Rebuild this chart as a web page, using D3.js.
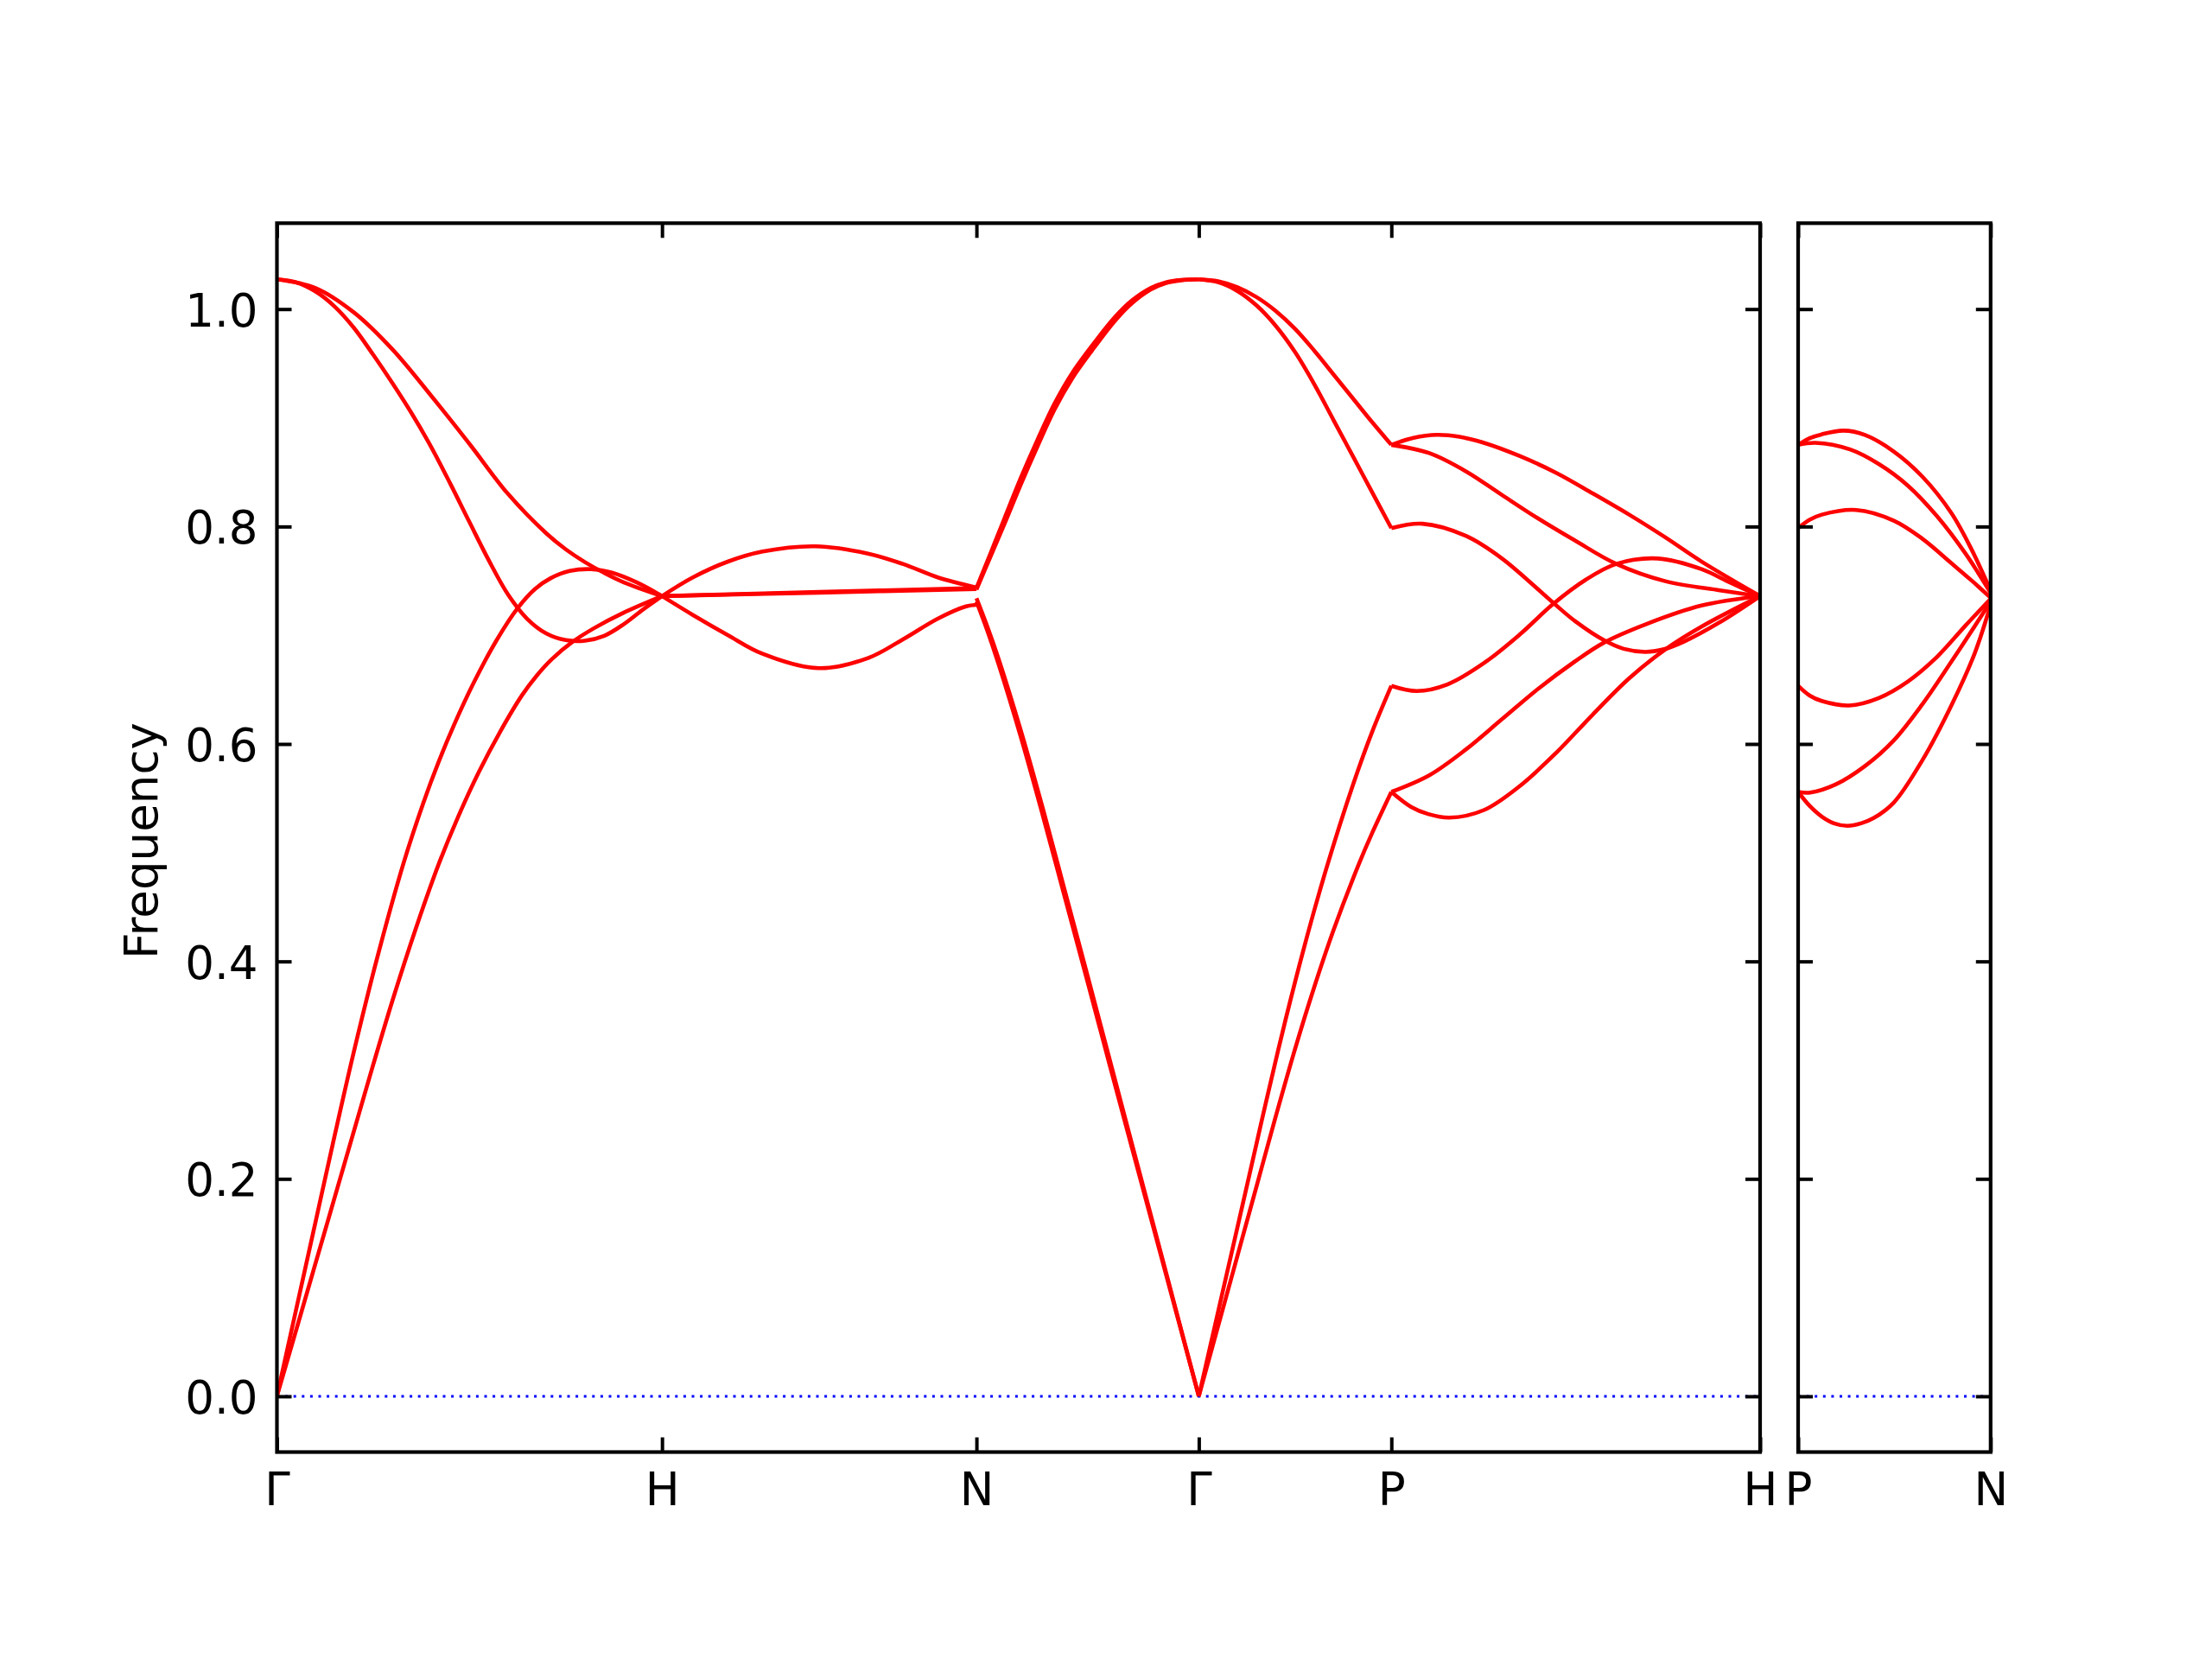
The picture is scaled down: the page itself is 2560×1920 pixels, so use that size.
<!DOCTYPE html>
<html><head><meta charset="utf-8">
<script src="https://cdn.jsdelivr.net/npm/d3@7"></script>
<style>body{margin:0;background:#fff}</style>
</head><body>
<svg id="chart" width="2560" height="1920" xmlns="http://www.w3.org/2000/svg"></svg>
<script>
// ---------------- data ----------------
const mainLabels = ["Γ","H","N","Γ","P","H"];
const mainPos = [0, 0.8660, 1.5731, 2.0731, 2.5061, 3.3353];
const sideLabels = ["P","N"];
const sidePos = [0, 0.4330];
const yTickVals = [0, 0.2, 0.4, 0.6, 0.8, 1.0];
const yTickLabels = ["0.0","0.2","0.4","0.6","0.8","1.0"];
const yLabel = "Frequency";

// each band: [fraction along segment, frequency]
const bandsGH = [
  [[0,1.0274],[0.1,1.0194],[0.2,0.9969],[0.3,0.9629],[0.4,0.9205],[0.5,0.8760],[0.6,0.8300],[0.7,0.7935],[0.75,0.7790],[0.8,0.7672],[0.85,0.7573],[0.9,0.7488],[1,0.736]],
  [[0,1.0274],[0.05,1.0246],[0.1,1.0162],[0.15,1.0023],[0.2,0.9827],[0.25,0.9580],[0.3,0.9318],[0.35,0.9040],[0.4,0.8735],[0.45,0.8395],[0.5,0.8040],[0.55,0.7690],[0.6,0.7375],[0.65,0.7150],[0.7,0.7015],[0.75,0.6955],[0.8,0.6950],[0.85,0.6995],[0.9,0.7100],[0.95,0.7235],[1,0.736]],
  [[0,0],[0.05,0.08],[0.1,0.16],[0.15,0.24],[0.2,0.3173],[0.26,0.4028],[0.329,0.4906],[0.38,0.5456],[0.42,0.5836],[0.46,0.6176],[0.51,0.6556],[0.57,0.6952],[0.625,0.7249],[0.67,0.7425],[0.71,0.7523],[0.76,0.7591],[0.816,0.7608],[0.87,0.7576],[0.935,0.7485],[1,0.736]],
  [[0,0],[0.1,0.122],[0.2,0.244],[0.25,0.305],[0.3,0.364],[0.36,0.4296],[0.42,0.4894],[0.47,0.5326],[0.524,0.574],[0.58,0.6115],[0.636,0.6446],[0.675,0.6630],[0.711,0.6770],[0.768,0.6940],[0.824,0.7066],[0.899,0.7205],[1,0.736]]
];
const bandsHN = [
  [[0,0.736],[0.098,0.7532],[0.209,0.7677],[0.320,0.777],[0.488,0.7818],[0.655,0.7751],[0.766,0.7656],[0.877,0.7532],[1,0.7439]],
  [[0,0.736],[0.5,0.7392],[1,0.7425]],
  [[0,0.736],[0.5,0.7398],[1,0.7435]],
  [[0,0.736],[0.098,0.7187],[0.209,0.7002],[0.320,0.6829],[0.499,0.6697],[0.655,0.679],[0.766,0.6962],[0.877,0.7153],[0.967,0.7266],[1,0.728]]
];
const bandsNG = [
  [[0,0.7435],[0.0625,0.775],[0.125,0.807],[0.2,0.845],[0.275,0.88],[0.352,0.9134],[0.43,0.941],[0.52,0.9664],[0.624,0.9929],[0.7,1.008],[0.784,1.0194],[0.85,1.0245],[0.92,1.0268],[1,1.0274]],
  [[0,0.742],[0.0625,0.772],[0.125,0.802],[0.2,0.839],[0.275,0.874],[0.352,0.908],[0.43,0.936],[0.52,0.962],[0.624,0.9895],[0.7,1.0055],[0.784,1.018],[0.85,1.0238],[0.92,1.0265],[1,1.0274]],
  [[0,0.734],[0.05,0.7073],[0.1,0.678],[0.2,0.612],[0.3,0.5395],[0.4,0.463],[0.5,0.3865],[0.6,0.309],[0.7,0.2315],[0.8,0.1545],[0.9,0.0772],[1,0]],
  [[0,0.731],[0.05,0.7035],[0.1,0.673],[0.2,0.606],[0.3,0.533],[0.4,0.457],[0.5,0.381],[0.6,0.304],[0.7,0.228],[0.8,0.152],[0.9,0.076],[1,0]]
];
const bandsGP = [
  [[0,1.0274],[0.1,1.0256],[0.2,1.0201],[0.3,1.011],[0.4,0.9982],[0.5,0.9818],[0.6,0.9617],[0.7,0.9398],[0.8,0.9179],[0.9,0.896],[1,0.8751]],
  [[0,1.0274],[0.1,1.0247],[0.2,1.0167],[0.3,1.0033],[0.4,0.9845],[0.5,0.9604],[0.6,0.9308],[0.7,0.8978],[0.8,0.8647],[0.9,0.8316],[1,0.7985]],
  [[0,0],[0.1,0.0776],[0.2,0.155],[0.3,0.2327],[0.35,0.2714],[0.45,0.346],[0.55,0.415],[0.66,0.484],[0.8,0.562],[0.9,0.611],[1,0.6535]],
  [[0,0],[0.1,0.0644],[0.2,0.1288],[0.3,0.1932],[0.4,0.2577],[0.5,0.3196],[0.6,0.3767],[0.7,0.4289],[0.83,0.489],[0.9,0.518],[1,0.5559]]
];
const bandsPH = [
  [[0,0.8751],[0.06,0.8815],[0.123,0.8843],[0.185,0.8825],[0.251,0.877],[0.349,0.8647],[0.448,0.8492],[0.546,0.8305],[0.645,0.8109],[0.743,0.79],[0.841,0.7678],[1,0.736]],
  [[0,0.8751],[0.103,0.8675],[0.202,0.8508],[0.300,0.829],[0.398,0.8074],[0.497,0.7873],[0.610,0.7656],[0.743,0.7497],[0.891,0.7413],[1,0.736]],
  [[0,0.7985],[0.084,0.8026],[0.202,0.7914],[0.300,0.7706],[0.438,0.7301],[0.5,0.7125],[0.576,0.6955],[0.63,0.6875],[0.689,0.6847],[0.74,0.6872],[0.792,0.6939],[0.891,0.712],[1,0.736]],
  [[0,0.6535],[0.069,0.6487],[0.152,0.6548],[0.251,0.6744],[0.349,0.7009],[0.438,0.7285],[0.527,0.751],[0.610,0.7656],[0.723,0.7706],[0.841,0.7608],[0.920,0.7482],[1,0.736]],
  [[0,0.5559],[0.054,0.542],[0.1,0.5355],[0.157,0.5322],[0.251,0.5392],[0.349,0.5615],[0.448,0.5922],[0.546,0.627],[0.645,0.6604],[0.743,0.687],[0.841,0.7079],[1,0.736]],
  [[0,0.5559],[0.103,0.5712],[0.202,0.5949],[0.300,0.6228],[0.398,0.6507],[0.497,0.6757],[0.576,0.6931],[0.694,0.7106],[0.841,0.7273],[1,0.736]]
];
const bandsPN = [
  [[0,0.8751],[0.06,0.8812],[0.123,0.8848],[0.235,0.8882],[0.347,0.8843],[0.497,0.869],[0.646,0.8458],[0.796,0.8124],[0.901,0.7789],[1,0.741]],
  [[0,0.8751],[0.090,0.877],[0.270,0.8709],[0.419,0.8575],[0.571,0.8375],[0.721,0.8096],[0.871,0.7747],[1,0.739]],
  [[0,0.7985],[0.06,0.8062],[0.123,0.8109],[0.302,0.8152],[0.497,0.8054],[0.646,0.7887],[0.796,0.7663],[0.9,0.7505],[1,0.7345]],
  [[0,0.6535],[0.06,0.6445],[0.123,0.6395],[0.265,0.6354],[0.419,0.6423],[0.571,0.6576],[0.721,0.68],[0.871,0.7092],[1,0.7335]],
  [[0,0.5559],[0.063,0.5553],[0.197,0.5629],[0.347,0.5796],[0.497,0.6033],[0.646,0.6367],[0.796,0.6757],[0.931,0.712],[1,0.731]],
  [[0,0.5559],[0.06,0.543],[0.123,0.5332],[0.19,0.5268],[0.257,0.5247],[0.33,0.5272],[0.392,0.5318],[0.497,0.5461],[0.646,0.5852],[0.796,0.6354],[0.916,0.6828],[1,0.728]]
];
const mainSegments = [bandsGH, bandsHN, bandsNG, bandsGP, bandsPH]; // between consecutive mainPos
const sideSegments = [bandsPN];

// ---------------- layout ----------------
const svg = d3.select("#chart");
const FONT = "DejaVu Sans, Liberation Sans, sans-serif";
const FS = 53;
const plotTop = 258.3, plotBottom = 1680.5;
const mainRange = [320.5, 2037];
const sideRange = [2081, 2303.8];
const yScale = d3.scaleLinear().domain([-0.0513, 1.079]).range([plotBottom, plotTop]);

function panel(id, xr, pos, labels, segments, showYLabels) {
  const x = d3.scaleLinear().domain([pos[0], pos[pos.length-1]]).range(xr);
  const g = svg.append("g");
  g.append("clipPath").attr("id", id).append("rect")
    .attr("x", xr[0]).attr("y", plotTop).attr("width", xr[1]-xr[0]).attr("height", plotBottom-plotTop);
  const plot = g.append("g").attr("clip-path", `url(#${id})`);
  plot.append("line")
    .attr("x1", xr[0]).attr("x2", xr[1]).attr("y1", yScale(0)).attr("y2", yScale(0))
    .attr("stroke", "#0000ff").attr("stroke-width", 3).attr("stroke-dasharray", "3 6.6");
  segments.forEach((bands, si) => {
    const a = pos[si], b = pos[si+1];
    const line = d3.line()
      .x(d => x(a + d[0]*(b-a)))
      .y(d => yScale(d[1]))
      .curve(d3.curveCatmullRom.alpha(0.5));
    bands.forEach(band => {
      plot.append("path").attr("d", line(band))
        .attr("fill", "none").attr("stroke", "#ff0000")
        .attr("stroke-width", 4.6).attr("stroke-linejoin", "round");
    });
  });
  const TL = 17;
  const styleAxis = (ag) => {
    ag.select(".domain").remove();
    ag.selectAll(".tick line").attr("stroke", "#000").attr("stroke-width", 4);
    ag.selectAll("text").attr("font-family", FONT).attr("font-size", FS).attr("fill", "#000");
  };
  const ax1 = g.append("g").attr("transform", `translate(${xr[0]},0)`)
    .call(d3.axisLeft(yScale).tickValues(yTickVals).tickSize(-TL).tickPadding(22)
      .tickFormat((d,i) => showYLabels ? yTickLabels[i] : ""));
  styleAxis(ax1); ax1.selectAll("text").attr("dy", "0.37em");
  const ax2 = g.append("g").attr("transform", `translate(${xr[1]},0)`)
    .call(d3.axisRight(yScale).tickValues(yTickVals).tickSize(-TL).tickFormat(""));
  styleAxis(ax2);
  const ax3 = g.append("g").attr("transform", `translate(0,${plotBottom})`)
    .call(d3.axisBottom(x).tickValues(pos).tickSize(-TL).tickPadding(24)
      .tickFormat((d,i) => labels[i]));
  styleAxis(ax3);
  const ax4 = g.append("g").attr("transform", `translate(0,${plotTop})`)
    .call(d3.axisTop(x).tickValues(pos).tickSize(-TL).tickFormat(""));
  styleAxis(ax4);
  g.append("rect").attr("x", xr[0]).attr("y", plotTop)
    .attr("width", xr[1]-xr[0]).attr("height", plotBottom-plotTop)
    .attr("fill", "none").attr("stroke", "#000").attr("stroke-width", 4.2);
}

panel("clipMain", mainRange, mainPos, mainLabels, mainSegments, true);
panel("clipSide", sideRange, sidePos, sideLabels, sideSegments, false);

svg.append("text")
  .attr("transform", `translate(182,973) rotate(-90)`)
  .attr("text-anchor", "middle")
  .attr("font-family", FONT).attr("font-size", FS)
  .text(yLabel);
</script>
</body></html>
